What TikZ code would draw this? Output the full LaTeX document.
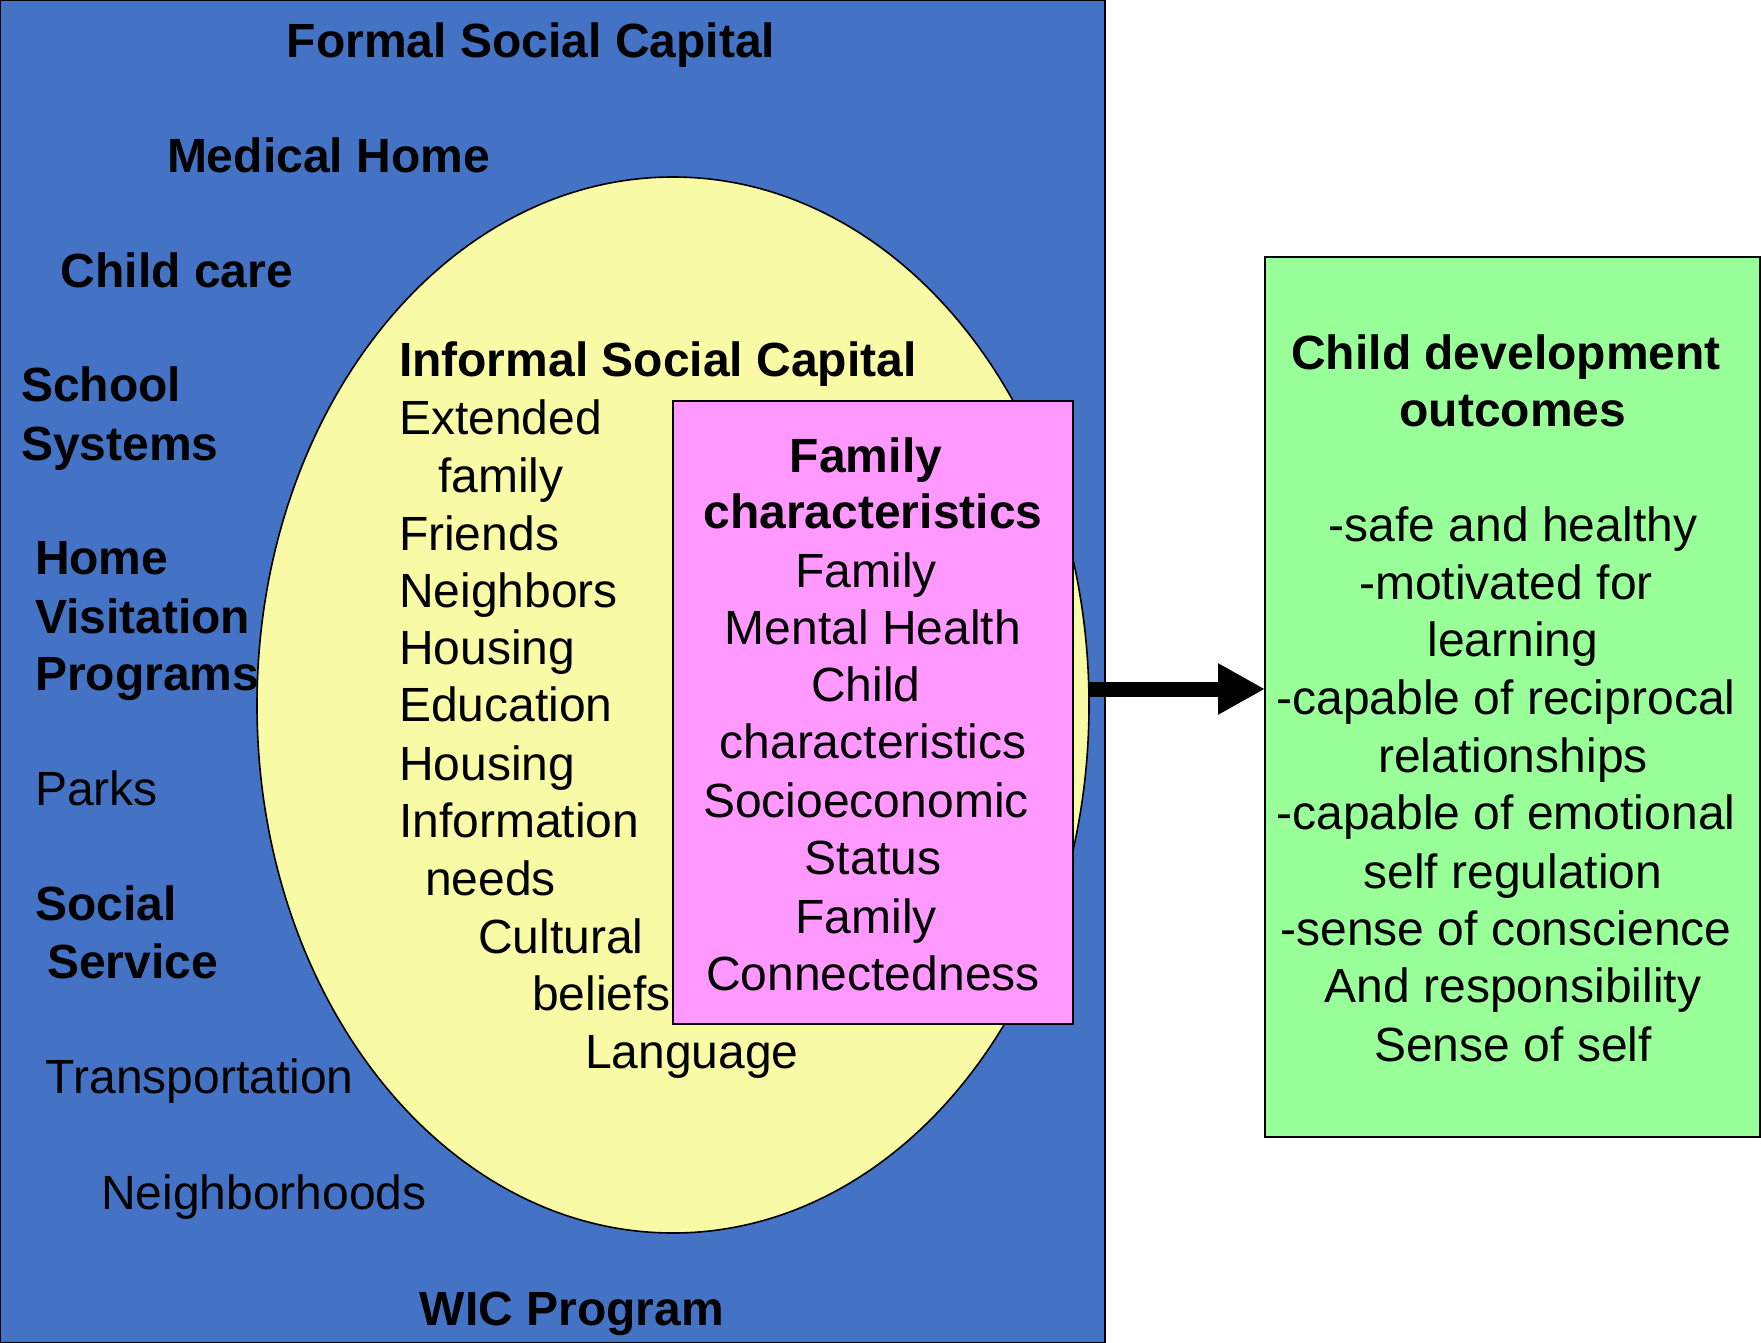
\documentclass[tikz,border=0pt]{standalone}
\usepackage{fontspec}
\setmainfont{Liberation Sans}
\usetikzlibrary{positioning,shapes,arrows.meta}
\definecolor{formalblue}{RGB}{68,114,196}
\definecolor{informalyellow}{RGB}{248,250,165}
\definecolor{familypink}{RGB}{255,153,255}
\definecolor{outgreen}{RGB}{153,255,153}

\begin{document}
\begin{tikzpicture}[x=0.5pt,y=-0.5pt]
\tikzstyle{every node}+=[inner sep=0pt,outer sep=0pt,font=\fontsize{24}{28.8}\selectfont]
\tikzstyle{lbl}=[anchor=base west,yshift=0.8pt]
\tikzstyle{blbl}=[anchor=base west,yshift=0.8pt,font=\fontsize{24}{28.8}\selectfont\bfseries]
\tikzstyle{clbl}=[anchor=base,yshift=0.8pt]
\tikzstyle{cblbl}=[anchor=base,yshift=0.8pt,font=\fontsize{24}{28.8}\selectfont\bfseries]
\tikzstyle{area}=[draw=black,line width=0.8pt]
\useasboundingbox (0,0) rectangle (1761,1343);
% boxes
\node[area,fill=formalblue,minimum width=552.5pt,minimum height=671.5pt] (formal) at (552.5,671.5) {};
\node[area,ellipse,fill=informalyellow,minimum width=416pt,minimum height=528pt] (informal) at (673,705) {};
\node[area,fill=familypink,minimum width=200pt,minimum height=311.5pt] (family) at (873,712.5) {};
\node[area,fill=outgreen,minimum width=247.5pt,minimum height=440pt] (outbox) at (1512.5,697) {};
\draw[line width=7.5pt,-{Triangle[length=23.5pt,width=24pt]}] ([yshift=8pt]informal.east) -- ([yshift=4pt]outbox.west);
% formal social capital
\node[cblbl] (fsc) at (531,59) {Formal Social Capital};
\node[blbl] (medhome) at (167,174) {Medical Home};
\node[blbl] (childcare) at (61,289) {Child care};
\node[blbl] (school) at (21,403) {School};
\node[blbl] (systems) at (21,462) {Systems};
\node[blbl] (home) at (35,576) {Home};
\node[blbl] (visit) at (35,635) {Visitation};
\node[blbl] (progs) at (35,692) {Programs};
\node[lbl] (parks) at (35,807) {Parks};
\node[blbl] (social) at (35,922) {Social};
\node[blbl] (service) at (47,980) {Service};
\node[lbl] (transp) at (46,1095) {Transportation};
\node[lbl] (nbhoods) at (101,1211) {Neighborhoods};
\node[cblbl] (wic) at (572,1327) {WIC Program};
% informal social capital
\node[blbl] (isc) at (399,378) {Informal Social Capital};
\node[lbl] (ext) at (399,436) {Extended};
\node[lbl] (extfam) at (438,494) {family};
\node[lbl] (friends) at (399,552) {Friends};
\node[lbl] (neigh) at (399,609) {Neighbors};
\node[lbl] (hous) at (399,666) {Housing};
\node[lbl] (educ) at (399,723) {Education};
\node[lbl] (hous2) at (399,782) {Housing};
\node[lbl] (info) at (399,839) {Information};
\node[lbl] (needs) at (425,897) {needs};
\node[lbl] (cult) at (478,955) {Cultural};
\node[lbl] (beliefs) at (532,1012) {beliefs};
\node[lbl] (lang) at (585,1070) {Language};
% family characteristics
\node[cblbl] (famtitle) at (866,474) {Family};
\node[cblbl] (famchar) at (873,530) {characteristics};
\node[clbl] (fam) at (866,589) {Family};
\node[clbl] (mental) at (873,646) {Mental Health};
\node[clbl] (child) at (866,703) {Child};
\node[clbl] (childchar) at (873,760) {characteristics};
\node[clbl] (socio) at (866,819) {Socioeconomic};
\node[clbl] (status) at (873,876) {Status};
\node[clbl] (fam2) at (866,935) {Family};
\node[clbl] (connect) at (873,992) {Connectedness};
% outcomes
\node[cblbl] (outtitle) at (1506,371) {Child development};
\node[cblbl] (outtitle2) at (1513,428) {outcomes};
\node[clbl] (safe) at (1513,543) {-safe and healthy};
\node[clbl] (motiv) at (1506,601) {-motivated for};
\node[clbl] (learn) at (1513,658) {learning};
\node[clbl] (recip) at (1506,716) {-capable of reciprocal};
\node[clbl] (relat) at (1513,774) {relationships};
\node[clbl] (emot) at (1506,831) {-capable of emotional};
\node[clbl] (selfreg) at (1513,890) {self regulation};
\node[clbl] (consc) at (1506,947) {-sense of conscience};
\node[clbl] (resp) at (1513,1004) {And responsibility};
\node[clbl] (self) at (1513,1063) {Sense of self};
\end{tikzpicture}
\end{document}
